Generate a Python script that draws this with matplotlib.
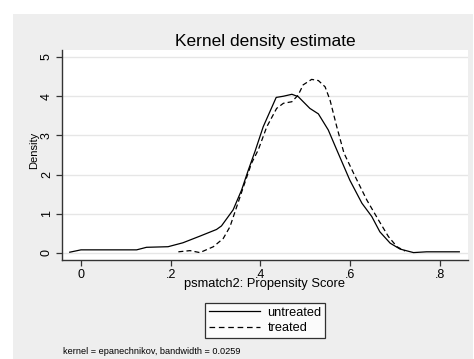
import numpy as np
import matplotlib
matplotlib.use("Agg")
import matplotlib.pyplot as plt
from matplotlib.patches import Rectangle

plt.rcParams['font.family'] = ['Liberation Sans', 'DejaVu Sans']

# untreated density (solid)
untr_x = [-0.025, 0.0, 0.124, 0.146, 0.194, 0.227, 0.265, 0.302, 0.313, 0.339,
          0.358, 0.373, 0.388, 0.406, 0.435, 0.451, 0.470, 0.484, 0.510, 0.529,
          0.551, 0.570, 0.599, 0.626, 0.648, 0.666, 0.689, 0.711, 0.741, 0.770, 0.843]
untr_y = [0.02, 0.08, 0.08, 0.145, 0.16, 0.26, 0.43, 0.60, 0.69, 1.10,
          1.61, 2.12, 2.60, 3.22, 3.97, 4.00, 4.05, 3.99, 3.69, 3.55,
          3.14, 2.63, 1.86, 1.27, 0.93, 0.54, 0.25, 0.10, 0.01, 0.03, 0.03]

# treated density (dashed)
tr_x = [0.217, 0.243, 0.265, 0.295, 0.317, 0.332, 0.347, 0.362, 0.380, 0.395,
        0.414, 0.436, 0.451, 0.470, 0.484, 0.495, 0.514, 0.529, 0.544, 0.555,
        0.570, 0.586, 0.611, 0.637, 0.663, 0.685, 0.704, 0.722]
tr_y = [0.03, 0.06, 0.01, 0.16, 0.37, 0.67, 1.18, 1.69, 2.29, 2.63,
        3.22, 3.69, 3.82, 3.86, 4.03, 4.29, 4.43, 4.40, 4.24, 3.90,
        3.22, 2.55, 1.95, 1.35, 0.84, 0.42, 0.16, 0.05]

xticks = [0, 0.2, 0.4, 0.6, 0.8]
xticklabels = ['0', '.2', '.4', '.6', '.8']
yticks = [0, 1, 2, 3, 4, 5]

W, H = 474, 359
fig = plt.figure(figsize=(W / 100, H / 100), dpi=100)
fig.patch.set_facecolor('white')
fig.patches.append(Rectangle((13 / W, 0), 460 / W, (H - 14) / H,
                             transform=fig.transFigure, facecolor='#eeeeee',
                             edgecolor='none', zorder=-5))

ax = fig.add_axes([62 / W, 1 - 260 / H, 406 / W, 210 / H])
ax.set_zorder(2)
ax.set_facecolor('white')
ax.plot(untr_x, untr_y, color='black', lw=0.9, label='untreated')
ax.plot(tr_x, tr_y, color='black', lw=0.9, ls=(0, (4, 2.5)), label='treated')

ax.set_xlim(-0.0423, 0.8624)
ax.set_ylim(-0.179, 5.18)
ax.set_xticks(xticks)
ax.set_xticklabels(xticklabels)
ax.set_yticks(yticks)
ax.set_yticklabels([str(v) for v in yticks], rotation=90, va='center')
ax.yaxis.grid(True, color='#e6e6e6', lw=1)
ax.set_axisbelow(True)
for s in ['top', 'right']:
    ax.spines[s].set_visible(False)
for s in ['left', 'bottom']:
    ax.spines[s].set_color('#333333')
    ax.spines[s].set_linewidth(1.0)
ax.tick_params(direction='out', length=4, width=0.9, color='#333333',
               labelsize=9, pad=2.5)

ax.set_title('Kernel density estimate', fontsize=12.5, pad=3)
ax.set_xlabel('psmatch2: Propensity Score', fontsize=9.3, labelpad=-2)
ax.set_ylabel('Density', fontsize=8, labelpad=1, y=0.52)

handles, labels = ax.get_legend_handles_labels()
leg = fig.legend(handles, labels, loc='center', bbox_to_anchor=(265 / W, 1 - 320.5 / H),
                 fontsize=9.2, frameon=True, fancybox=False, handlelength=4.0,
                 borderpad=0.3, labelspacing=0.3, handletextpad=0.6)
leg.get_frame().set_edgecolor('black')
leg.get_frame().set_linewidth(0.9)
leg.get_lines()[1].set_linestyle((0, (4.5, 3)))

fig.text(63 / W, 1 - 351 / H, 'kernel = epanechnikov, bandwidth = 0.0259',
         fontsize=6.6, va='center', ha='left')

fig.savefig('out.png', dpi=100)
